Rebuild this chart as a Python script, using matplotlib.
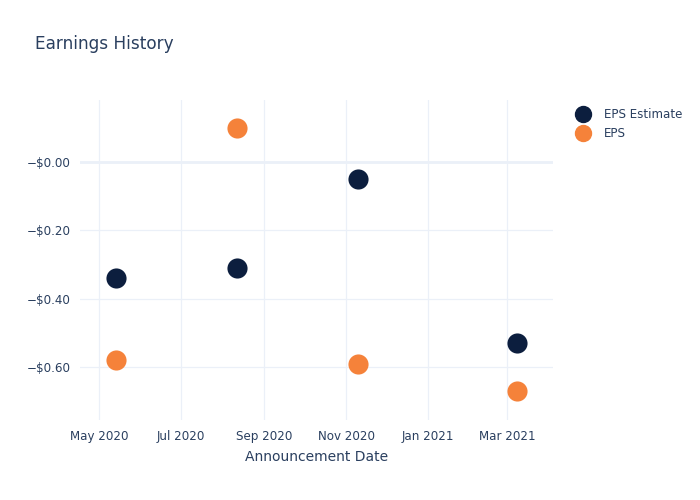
import matplotlib
matplotlib.use("Agg")
import matplotlib.pyplot as plt
from matplotlib.lines import Line2D
import numpy as np

# data
dates = np.array(["2020-05-14", "2020-08-12", "2020-11-10", "2021-03-08"], dtype="datetime64[D]")
eps_estimate = [-0.34, -0.31, -0.05, -0.53]
eps_actual = [-0.58, 0.10, -0.59, -0.67]
y_ticks = [0.0, -0.2, -0.4, -0.6]
y_labels = ["\u2212$0.00", "\u2212$0.20", "\u2212$0.40", "\u2212$0.60"]
x_ticks = np.array(["2020-05-01", "2020-07-01", "2020-09-01", "2020-11-01",
                    "2021-01-01", "2021-03-01"], dtype="datetime64[D]")
x_labels = ["May 2020", "Jul 2020", "Sep 2020", "Nov 2020", "Jan 2021", "Mar 2021"]

TEXT = "#2a3f5f"
GRID = "#ebf0f8"
NAVY = "#0c1e3e"
ORANGE = "#f5823a"

fig = plt.figure(figsize=(7, 5), dpi=100)
ax = fig.add_axes([80 / 700, 80 / 500, 473 / 700, 320 / 500])

ax.scatter(dates, eps_estimate, s=210, color=NAVY, zorder=3, linewidths=0)
ax.scatter(dates, eps_actual, s=210, color=ORANGE, zorder=3, linewidths=0)

ax.set_xlim(np.datetime64("2020-04-17"), np.datetime64("2021-04-04"))
ax.set_ylim(-0.755, 0.1815)

ax.set_xticks(x_ticks.astype(object))
ax.set_xticklabels(x_labels)
ax.set_yticks(y_ticks)
ax.set_yticklabels(y_labels)

ax.tick_params(length=0, colors=TEXT, labelsize=8.6, pad=7)
ax.grid(True, color=GRID, linewidth=0.9)
ax.axhline(0, color=GRID, linewidth=2, zorder=1)
for s in ax.spines.values():
    s.set_visible(False)
ax.set_axisbelow(True)

ax.set_xlabel("Announcement Date", color=TEXT, fontsize=10, labelpad=5.5)
fig.text(35 / 700, 1 - 44 / 500, "Earnings History", color=TEXT, fontsize=12.2,
         va="center", ha="left")

handles = [
    Line2D([], [], marker="o", linestyle="", markersize=11.5, color=NAVY, label="EPS Estimate"),
    Line2D([], [], marker="o", linestyle="", markersize=11.5, color=ORANGE, label="EPS"),
]
leg = fig.legend(handles=handles, loc="upper left", bbox_to_anchor=(571 / 700, 1 - 103 / 500),
                 frameon=False, fontsize=8.6, handletextpad=1.18, labelspacing=0.55,
                 handlelength=1.2, borderaxespad=0)
for t in leg.get_texts():
    t.set_color(TEXT)

fig.savefig("out.png", dpi=100)
